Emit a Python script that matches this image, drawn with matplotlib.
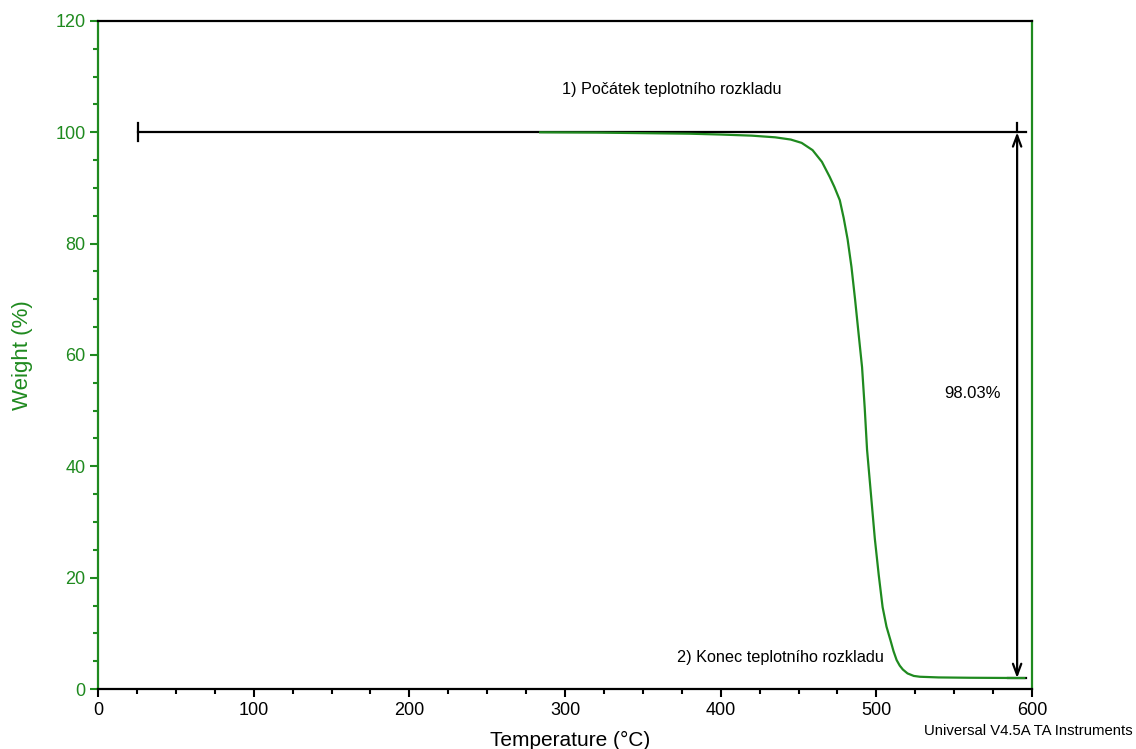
import matplotlib
matplotlib.use("Agg")
import matplotlib.pyplot as plt
from matplotlib.ticker import MultipleLocator

plt.rcParams['font.family'] = ['Liberation Sans', 'DejaVu Sans']

GREEN = '#1f8a1f'

# TGA curve
temperature = [284, 320, 350, 380, 400, 420, 435, 445, 452, 459, 465, 470, 473,
               476.5, 479, 481.5, 484, 486.3, 488.5, 490.8, 492.5, 494, 496.5,
               499, 501.5, 504, 506.5, 509, 511, 513, 515, 517, 520, 524, 528,
               540, 560, 580, 595]
weight = [100.0, 99.95, 99.85, 99.75, 99.6, 99.4, 99.1, 98.7, 98.1, 96.8, 94.7,
          92.0, 90.2, 87.8, 84.6, 80.8, 75.8, 70.0, 64.0, 57.8, 50.5, 43.0, 35.0,
          27.0, 20.5, 14.7, 11.2, 8.8, 6.8, 5.2, 4.2, 3.5, 2.8, 2.35, 2.2,
          2.08, 2.02, 1.99, 1.97]

onset_level = 100.0
end_level = 1.97
step_start_t = 25.7
step_end_t = 596.0
arrow_t = 590.4
loss_label = "98.03%"
label_onset = "1) Počátek teplotního rozkladu"
label_end = "2) Konec teplotního rozkladu"

x_ticks = [0, 100, 200, 300, 400, 500, 600]
y_ticks = [0, 20, 40, 60, 80, 100, 120]

fig = plt.figure(figsize=(11.36, 7.49), dpi=100)
ax = fig.add_axes([0.0863, 0.0801, 0.8222, 0.8919])

ax.plot(temperature, weight, color=GREEN, lw=1.6, zorder=3)

# step annotation lines
ax.plot([step_start_t, step_end_t], [onset_level, onset_level], color='black', lw=1.6, zorder=2)
ax.plot([step_start_t, step_start_t], [onset_level - 1.6, onset_level + 1.6], color='black', lw=1.6)
ax.plot([584.6, step_end_t], [end_level, end_level], color='black', lw=1.6, zorder=2)
ax.plot([arrow_t, arrow_t], [onset_level, onset_level + 1.6], color='black', lw=1.6)
ax.annotate('', xy=(arrow_t, onset_level), xytext=(arrow_t, end_level),
            arrowprops=dict(arrowstyle='<->,head_length=0.8,head_width=0.3',
                            color='black', lw=1.6, shrinkA=0, shrinkB=0))

ax.text(368.7, 107.7, label_onset, ha='center', va='center', fontsize=11.7)
ax.text(504.5, 5.7, label_end, ha='right', va='center', fontsize=11.7)
ax.text(562, 53.1, loss_label, ha='center', va='center', fontsize=12)

ax.set_xlim(0, 600)
ax.set_ylim(0, 120)
ax.set_xticks(x_ticks)
ax.set_yticks(y_ticks)
ax.xaxis.set_minor_locator(MultipleLocator(25))
ax.yaxis.set_minor_locator(MultipleLocator(5))

ax.tick_params(axis='x', which='major', length=6, width=1.5, colors='black',
               labelsize=13, pad=3)
ax.tick_params(axis='x', which='minor', length=3.5, width=1.5, colors='black')
ax.tick_params(axis='y', which='major', length=6, width=1.5, colors=GREEN,
               labelsize=13, pad=3)
ax.tick_params(axis='y', which='minor', length=3.5, width=1.5, colors=GREEN)

for side in ['left', 'right']:
    ax.spines[side].set_color(GREEN)
    ax.spines[side].set_linewidth(1.6)
for side in ['top', 'bottom']:
    ax.spines[side].set_color('black')
    ax.spines[side].set_linewidth(1.6)

ax.set_xlabel("Temperature (°C)", fontsize=15, va='center')
ax.xaxis.set_label_coords((570 - 98) / 934, (689 - 740) / 668)
ax.set_ylabel("Weight (%)", fontsize=16, color=GREEN, va='center')
ax.yaxis.set_label_coords((22 - 98) / 934, 0.5)

fig.text(1133 / 1136, 1 - 731 / 749, "Universal V4.5A TA Instruments",
         ha='right', va='center', fontsize=10.7)

fig.savefig("out.png", dpi=100)
